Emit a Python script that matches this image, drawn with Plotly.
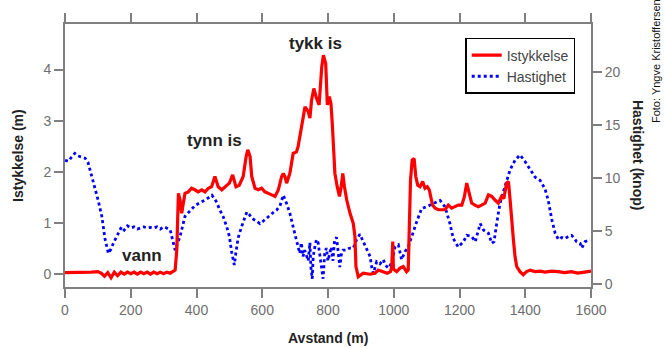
import plotly.graph_objects as go

# --- Ice thickness (m) vs distance (m) ---
dist_ice = [0, 20, 40, 60, 80, 100, 110, 120, 130, 140, 150, 160, 170, 180, 190, 200, 210, 220, 230, 240,
            250, 260, 270, 280, 290, 300, 310, 320, 330, 335, 340, 342, 345, 350, 355, 360, 365, 375, 385,
            395, 405, 416, 426, 436, 446, 456, 466, 477, 487, 500, 510, 520, 530, 542, 551, 556, 563, 568,
            578, 588, 598, 608, 619, 629, 639, 649, 659, 664, 669, 674, 684, 694, 704, 709, 720, 730, 740,
            745, 750, 757, 765, 773, 781, 786, 793, 798, 804, 809, 813, 818, 821, 828, 835, 840, 845, 850,
            857, 867, 877, 882, 885, 892, 907, 928, 943, 953, 965, 980, 990, 994, 997, 999, 1009, 1019,
            1029, 1039, 1044, 1047, 1051, 1056, 1062, 1067, 1073, 1080, 1088, 1095, 1102, 1108, 1113, 1118,
            1126, 1136, 1146, 1156, 1166, 1176, 1186, 1196, 1207, 1215, 1222, 1229, 1237, 1247, 1257, 1267,
            1278, 1288, 1298, 1308, 1318, 1328, 1335, 1343, 1349, 1354, 1359, 1364, 1369, 1374, 1384, 1394,
            1404, 1415, 1430, 1445, 1460, 1480, 1500, 1520, 1540, 1560, 1580, 1600]
thickness = [0.03, 0.03, 0.03, 0.04, 0.04, 0.05, 0.02, -0.04, 0.03, -0.07, 0.04, -0.03, 0.04, 0.0, 0.04, 0.01,
             0.04, 0.0, 0.04, 0.01, 0.04, 0.0, 0.04, 0.01, 0.04, 0.01, 0.04, 0.02, 0.06, 0.08, 0.47, 1.12,
             1.58, 1.45, 1.19, 1.39, 1.58, 1.61, 1.68, 1.65, 1.61, 1.65, 1.61, 1.68, 1.71, 1.91, 1.71, 1.65,
             1.71, 1.78, 1.94, 1.71, 1.74, 1.91, 2.30, 2.43, 2.30, 1.91, 1.68, 1.65, 1.68, 1.61, 1.58, 1.55,
             1.52, 1.65, 1.91, 1.97, 1.91, 1.78, 1.97, 2.36, 2.39, 2.49, 2.88, 3.27, 3.18, 3.05, 3.40, 3.63,
             3.44, 3.31, 4.05, 4.28, 4.12, 3.31, 3.47, 3.33, 2.95, 2.43, 1.97, 1.71, 1.52, 1.71, 1.97, 1.71,
             1.45, 1.19, 0.99, 0.73, 0.15, -0.05, 0.02, 0.0, 0.02, 0.08, 0.05, 0.02, 0.05, 0.15, 0.64, 0.10,
             0.05, 0.12, 0.15, 0.05, 0.08, 1.0, 1.84, 2.23, 2.26, 1.91, 1.74, 1.71, 1.81, 1.68, 1.71, 1.65,
             1.52, 1.35, 1.29, 1.26, 1.26, 1.26, 1.35, 1.29, 1.32, 1.35, 1.35, 1.52, 1.78, 1.58, 1.39, 1.35,
             1.32, 1.35, 1.39, 1.55, 1.52, 1.45, 1.39, 1.52, 1.48, 1.78, 1.81, 1.45, 1.0, 0.67, 0.34, 0.15,
             0.05, -0.01, 0.05, 0.08, 0.05, 0.06, 0.04, 0.06, 0.05, 0.03, 0.05, 0.02, 0.04, 0.06]

# --- Speed (knop) vs distance (m) ---
dist_speed = [0, 10, 20, 30, 40, 50, 61, 70, 76, 91, 101, 112, 122, 132, 140, 147, 155, 162, 172, 180, 190,
              200, 210, 220, 230, 240, 250, 260, 270, 280, 290, 300, 309, 320, 330, 335, 343, 350, 365, 380,
              395, 411, 430, 447, 460, 471, 482, 492, 500, 507, 512, 515, 520, 527, 537, 545, 553, 560, 568,
              580, 593, 605, 615, 624, 635, 644, 654, 664, 674, 684, 694, 704, 709, 714, 719, 724, 729, 734,
              740, 745, 748, 752, 755, 760, 765, 770, 775, 780, 785, 790, 795, 800, 805, 810, 815, 820, 826,
              831, 836, 841, 846, 856, 866, 877, 887, 897, 907, 917, 928, 933, 938, 948, 958, 968, 975, 983,
              994, 1004, 1014, 1024, 1034, 1044, 1055, 1070, 1085, 1100, 1120, 1141, 1156, 1171, 1181, 1196,
              1212, 1222, 1237, 1248, 1255, 1263, 1273, 1288, 1298, 1305, 1313, 1323, 1338, 1354, 1369, 1384,
              1399, 1415, 1430, 1445, 1460, 1470, 1481, 1491, 1501, 1511, 1521, 1531, 1541, 1550, 1556, 1567,
              1572, 1582, 1597]
speed = [11.7, 11.6, 12.0, 12.35, 12.1, 12.0, 11.9, 11.5, 10.8, 9.2, 7.9, 6.4, 4.2, 2.9, 3.3, 3.85, 4.4, 4.8,
         5.4, 5.1, 5.5, 5.3, 5.4, 5.2, 5.3, 5.4, 5.3, 5.35, 5.3, 5.4, 5.2, 5.4, 5.3, 5.1, 3.85, 3.2, 3.9, 4.5,
         6.4, 6.9, 7.4, 7.7, 8.0, 8.4, 7.8, 7.0, 6.3, 5.4, 4.5, 3.0, 1.95, 1.8, 3.0, 4.4, 5.4, 6.2, 6.8, 6.6,
         6.2, 6.0, 5.7, 6.0, 6.3, 6.5, 6.8, 7.0, 7.4, 8.4, 7.6, 6.7, 5.4, 4.2, 3.4, 2.9, 3.9, 2.6, 3.2, 2.7,
         2.2, 3.9, 1.6, 0.5, 2.6, 3.5, 4.2, 3.9, 2.9, 1.6, 0.5, 2.9, 3.4, 2.2, 2.9, 3.5, 2.2, 4.2, 4.4, 3.2,
         1.6, 2.9, 3.2, 3.2, 3.4, 3.4, 4.2, 4.7, 4.0, 3.2, 2.6, 1.6, 1.0, 2.1, 1.9, 2.3, 1.8, 1.5, 2.0, 3.5,
         3.7, 2.3, 3.05, 3.5, 4.6, 5.9, 7.15, 7.3, 7.6, 7.9, 7.3, 5.7, 4.3, 3.5, 4.0, 4.6, 4.5, 4.0, 4.8, 5.7,
         5.1, 4.8, 3.85, 4.0, 5.7, 7.6, 9.2, 10.8, 11.7, 12.2, 11.6, 10.8, 10.1, 9.8, 9.0, 7.9, 6.05, 4.8,
         4.2, 4.4, 4.3, 4.5, 4.6, 4.3, 4.0, 3.85, 3.4, 4.0, 4.2]

x_ticks = [0, 200, 400, 600, 800, 1000, 1200, 1400, 1600]
y_ticks = [0, 1, 2, 3, 4]
y2_ticks = [0, 5, 10, 15, 20]

FONT = "Arial, Liberation Sans, sans-serif"
AX = "#7f7f7f"
TICKFONT = dict(family=FONT, size=14, color="#6e6e6e")
TITLEFONT = dict(family=FONT, size=14, color="#222222")
LABELFONT = dict(family=FONT, size=17, color="#222222")

fig = go.Figure()
fig.add_trace(go.Scatter(x=dist_ice, y=thickness, name="Istykkelse", mode="lines",
                         line=dict(color="#ff0000", width=3.2), yaxis="y3"))
fig.add_trace(go.Scatter(x=dist_speed, y=speed, name="Hastighet", mode="lines",
                         line=dict(color="#0000ff", width=2.8, dash="3px,3px"), yaxis="y2"))

yr = [-0.25, 4.89]
fig.update_layout(
    width=665, height=348,
    margin=dict(l=65, r=74, t=24, b=61),
    paper_bgcolor="white", plot_bgcolor="white",
    font=dict(family=FONT),
    xaxis=dict(range=[0, 1600], tickvals=x_ticks, showgrid=False, zeroline=False,
               showline=True, linecolor=AX, linewidth=2, mirror="ticks",
               ticks="outside", ticklen=9, tickwidth=2, tickcolor=AX, tickfont=TICKFONT),
    yaxis=dict(range=yr, tickvals=y_ticks, showgrid=False, zeroline=False,
               showline=True, linecolor=AX, linewidth=2,
               ticks="outside", ticklen=9, tickwidth=2, tickcolor=AX, tickfont=TICKFONT),
    yaxis2=dict(range=[-0.28, 24.57], tickvals=y2_ticks, overlaying="y", side="right",
                showgrid=False, zeroline=False, showline=True, linecolor=AX, linewidth=2,
                ticks="outside", ticklen=9, tickwidth=2, tickcolor=AX, tickfont=TICKFONT),
    yaxis3=dict(range=yr, overlaying="y", visible=False, showgrid=False, zeroline=False),
    legend=dict(x=0.97, y=0.947, xanchor="right", yanchor="top",
                bgcolor="white", bordercolor="black", borderwidth=1.5,
                font=dict(family=FONT, size=14, color="#444444"),
                tracegroupgap=0, itemwidth=30),
    showlegend=True,
)

fig.add_annotation(text="<b>tykk is</b>", x=763, y=4.5, xref="x", yref="y", showarrow=False,
                   font=LABELFONT)
fig.add_annotation(text="<b>tynn is</b>", x=456, y=2.62, xref="x", yref="y", showarrow=False,
                   font=LABELFONT)
fig.add_annotation(text="<b>vann</b>", x=234, y=0.36, xref="x", yref="y", showarrow=False,
                   font=LABELFONT)

fig.add_annotation(text="<b>Istykkelse (m)</b>", x=-0.0894, y=0.502, xref="paper", yref="paper",
                   xanchor="center", yanchor="middle",
                   textangle=-90, showarrow=False, font=TITLEFONT)
fig.add_annotation(text="<b>Avstand (m)</b>", x=0.5, y=-0.194, xref="paper", yref="paper",
                   xanchor="center", yanchor="middle",
                   showarrow=False, font=TITLEFONT)
fig.add_annotation(text="<b>Hastighet (knop)</b>", x=1.0894, y=0.502, xref="paper", yref="paper",
                   xanchor="center", yanchor="middle",
                   textangle=90, showarrow=False, font=TITLEFONT)
fig.add_annotation(text="Foto: Yngve Kristoffersen", x=1.124, y=0.86, xref="paper", yref="paper",
                   xanchor="center", yanchor="middle",
                   textangle=-90, showarrow=False, font=dict(family=FONT, size=11, color="#111111"))

fig.write_html("out.html", config={"displayModeBar": False},
               post_script="document.body.style.margin='0';")
